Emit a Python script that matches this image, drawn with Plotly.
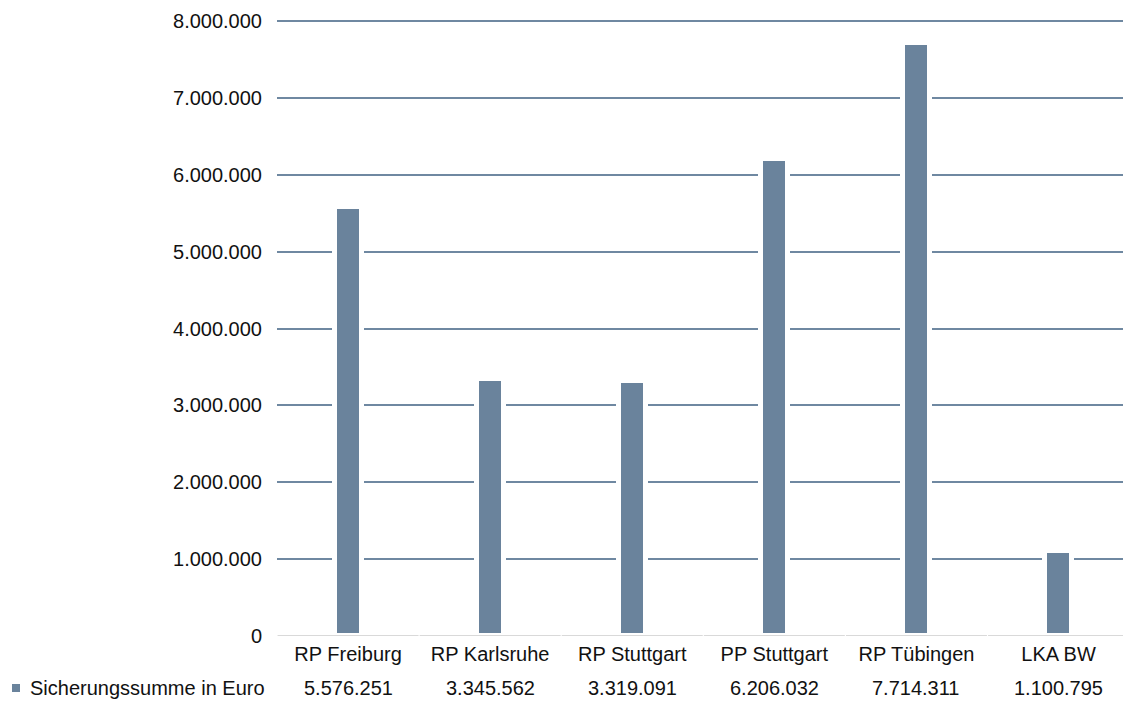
import plotly.graph_objects as go

# Sicherungssummen je Dienststelle (Euro)
categories = ["RP Freiburg", "RP Karlsruhe", "RP Stuttgart", "PP Stuttgart", "RP Tübingen", "LKA BW"]
values = [5576251, 3345562, 3319091, 6206032, 7714311, 1100795]
series_name = "Sicherungssumme in Euro"
y_ticks = [0, 1000000, 2000000, 3000000, 4000000, 5000000, 6000000, 7000000, 8000000]
y_max = 8040000  # a little headroom so the 8.000.000 grid line is drawn

BAR_COLOR = "#6A839C"
GRID_COLOR = "#6F88A1"
BASE_COLOR = "#D9D9D9"
FONT = "Liberation Sans, Arial, sans-serif"
FS = 20

W, H = 1123, 704
L, T, B = 277, 18, 68
PW, PH = W - L, H - T - B
CAT_PX = 142.1  # pixel width of one category slot


def px_x(px):
    return (px - L) / PW


def px_y(py):
    return (H - B - py) / PH


def fmt(v):
    return f"{v:,}".replace(",", ".")


fig = go.Figure()
fig.add_trace(go.Bar(
    x=list(range(len(categories))),
    y=values,
    width=0.19,
    marker=dict(color=BAR_COLOR, line=dict(color="white", width=5)),
    showlegend=False,
    hoverinfo="skip",
))

shapes = []
# segmented baseline, one piece per category slot
for i in range(len(categories)):
    shapes.append(dict(type="line", xref="x", yref="y",
                       x0=i - 0.5 + 0.004, x1=i + 0.5 - 0.004, y0=0, y1=0,
                       line=dict(color=BASE_COLOR, width=2), layer="above"))
# legend key square
shapes.append(dict(type="rect", xref="paper", yref="paper",
                   x0=px_x(12), x1=px_x(20), y0=px_y(692), y1=px_y(684),
                   fillcolor=BAR_COLOR, line=dict(width=0)))

annotations = [dict(xref="paper", yref="paper", x=px_x(28), y=px_y(688),
                    text=series_name, showarrow=False, xanchor="left", yanchor="middle",
                    font=dict(family=FONT, size=FS, color="#111111"))]
for i, v in enumerate(values):
    annotations.append(dict(xref="x", yref="paper", x=i, y=px_y(688),
                            text=fmt(v), showarrow=False, xanchor="center", yanchor="middle",
                            font=dict(family=FONT, size=FS, color="#111111")))

fig.update_layout(
    width=W, height=H,
    margin=dict(l=L, r=0, t=T, b=B, pad=0),
    plot_bgcolor="white", paper_bgcolor="white",
    separators=",.",
    bargap=0,
    shapes=shapes,
    annotations=annotations,
    font=dict(family=FONT, size=FS, color="#111111"),
    xaxis=dict(
        range=[-0.5, -0.5 + PW / CAT_PX],
        tickvals=list(range(len(categories))),
        ticktext=categories,
        showgrid=False, zeroline=False, showline=False,
        ticks="", ticklabelstandoff=4,
        fixedrange=True,
    ),
    yaxis=dict(
        range=[0, y_max],
        tickvals=y_ticks,
        tickformat=",d",
        showgrid=True, gridcolor=GRID_COLOR, gridwidth=2,
        zeroline=False, showline=False,
        ticks="", ticklabelstandoff=14,
        fixedrange=True,
    ),
)

fig.write_html("out.html")
